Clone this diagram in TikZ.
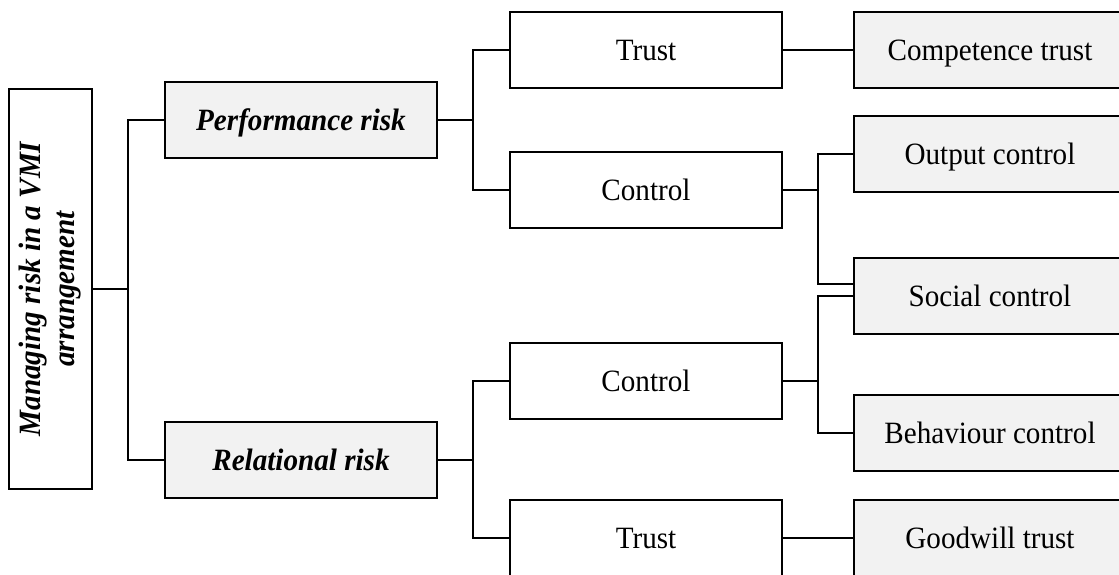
\documentclass[tikz,border=0pt]{standalone}
\usepackage{fontspec}
\setmainfont[FakeStretch=0.94]{Liberation Serif}
\definecolor{boxgray}{HTML}{F2F2F2}
\begin{document}
\begin{tikzpicture}[x=1pt,y=-1pt,
  box/.style={draw=black, line width=1.8pt, fill=white, minimum width=272pt, minimum height=76pt, inner sep=0pt, text height=21pt, text depth=0pt, font=\fontsize{31}{35}\selectfont},
  gbox/.style={box, fill=boxgray},
  riskbox/.style={gbox, font=\fontsize{31}{35}\selectfont\bfseries\itshape},
  conn/.style={draw=black, line width=1.8pt}]
\useasboundingbox (0,0) rectangle (1119,574);
\clip (0,0) rectangle (1119,574);
% nodes
\node[draw=black, line width=1.8pt, fill=white, rotate=90, minimum width=400pt, minimum height=83pt, inner sep=0pt, align=center, font=\fontsize{31}{34}\selectfont\bfseries\itshape] (root) at (50.5,289) {Managing risk in a VMI\\arrangement};
\node[riskbox] (perf) at (301,120) {Performance risk};
\node[riskbox] (rel) at (301,460) {Relational risk};
\node[box] (trust1) at (646,50) {Trust};
\node[box] (ctrl1) at (646,190) {Control};
\node[box] (ctrl2) at (646,381) {Control};
\node[box] (trust2) at (646,538) {Trust};
\node[gbox] (comp) at (990,50) {Competence trust};
\node[gbox] (out) at (990,154) {Output control};
\node[gbox] (soc) at (990,296) {Social control};
\node[gbox] (beh) at (990,433) {Behaviour control};
\node[gbox] (good) at (990,538) {Goodwill trust};
% junctions
\coordinate (j0) at (128,289);
\coordinate (j1) at (473,120);
\coordinate (j2) at (473,460);
\coordinate (j3) at (818,190);
\coordinate (j4) at (818,381);
% connectors
\draw[conn] (root.south) -- (j0);
\draw[conn] (perf.west) -| (j0) |- (rel.west);
\draw[conn] (perf.east) -- (j1);
\draw[conn] (trust1.west) -| (j1) |- (ctrl1.west);
\draw[conn] (rel.east) -- (j2);
\draw[conn] (ctrl2.west) -| (j2) |- (trust2.west);
\draw[conn] (trust1.east) -- (comp.west);
\draw[conn] (trust2.east) -- (good.west);
\draw[conn] (ctrl1.east) -- (j3);
\draw[conn] (out.west) -| (j3) |- ([yshift=12pt]soc.west);
\draw[conn] (ctrl2.east) -- (j4);
\draw[conn] (soc.west) -| (j4) |- (beh.west);
\end{tikzpicture}
\end{document}
